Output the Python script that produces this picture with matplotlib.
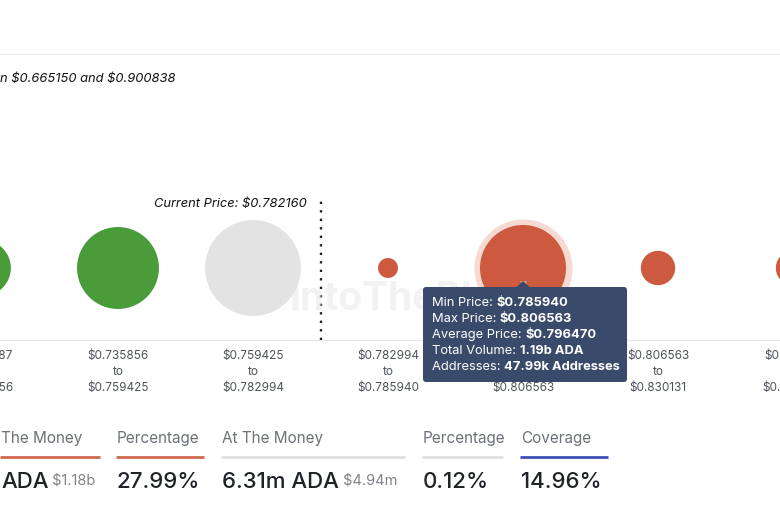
import matplotlib
matplotlib.use("Agg")
import matplotlib.pyplot as plt
from matplotlib.patches import FancyBboxPatch, Polygon

plt.rcParams['font.family'] = ['Inter', 'DejaVu Sans']
plt.rcParams['text.parse_math'] = False

# price buckets (only the visible part of the chart)
lows = [0.712287, 0.735856, 0.759425, 0.782994, 0.785940, 0.806563, 0.830131]
highs = [0.735856, 0.759425, 0.782994, 0.785940, 0.806563, 0.830131, 0.853700]
volumes_b = [0.50, 1.08, 1.48, 0.064, 1.19, 0.19, 0.19]  # billions ADA
status = ['in', 'in', 'at', 'out', 'out', 'out', 'out']
current_price = 0.782160
range_text = "n $0.665150 and $0.900838"

hovered = 4
tip_labels = ['Min Price: ', 'Max Price: ', 'Average Price: ', 'Total Volume: ', 'Addresses: ']
tip_values = ['$0.785940', '$0.806563', '$0.796470', '1.19b ADA', '47.99k Addresses']

stat_heads = ['The Money', 'Percentage', 'At The Money', 'Percentage', 'Coverage']
stat_values = ['ADA', '27.99%', '6.31m ADA', '0.12%', '14.96%']
stat_usd = ['$1.18b', '', '$4.94m', '', '']
stat_x = [1, 117, 222, 423, 521]
stat_w = [100, 88, 184, 81, 88]
stat_line = ['#d0694f', '#d0694f', '#e0e0e0', '#e0e0e0', '#3c50b4']

colors = {'in': '#4a9c3a', 'at': '#e3e3e3', 'out': '#cd5a3e'}

W, H = 780, 507
fig = plt.figure(figsize=(W / 100, H / 100), dpi=100)

# overlay axes in pixel coordinates for text / decorations
ov = fig.add_axes([0, 0, 1, 1])
ov.set_xlim(0, W)
ov.set_ylim(H, 0)
ov.axis('off')
ov.set_zorder(3)
ov.patch.set_alpha(0)

# bubble chart axes (wider than the figure so the edge columns are cut like the screenshot)
top, base = 54, 340
ext = 100
ax = fig.add_axes([-ext / W, (H - base) / H, (W + 2 * ext) / W, (base - top) / H])
first_c, step = 118, 135
yb = (base - 268) / (base - top)

xs = list(range(len(lows)))
r_ref = 43
px2pt = 72 / 100
sizes = [(2 * r_ref * (v / volumes_b[hovered]) ** 0.5 * px2pt) ** 2 for v in volumes_b]
ax.scatter(xs, [yb] * len(xs), s=sizes, c=[colors[s] for s in status],
           linewidths=0, zorder=3)
halo = (2 * (r_ref + 6) * px2pt) ** 2
ax.scatter([hovered], [yb], s=halo, c='#f6d9d1', linewidths=0, zorder=2)

labels = [f"${lo:.6f}\nto\n${hi:.6f}" for lo, hi in zip(lows, highs)]
ax.set_xticks(xs)
ax.set_xticklabels(labels, fontsize=8.5, color='#4f545a', linespacing=1.42)
ax.tick_params(axis='x', length=0, pad=7.5)
ax.set_yticks([])
ax.set_xlim((-ext - first_c) / step + 1, (W + ext - first_c) / step + 1)
ax.set_ylim(0, 1)
for sp in ['left', 'right']:
    ax.spines[sp].set_visible(False)
ax.spines['bottom'].set_color('#e2e5e9')
ax.spines['top'].set_color('#ececec')

# current price marker sits between the at-the-money and next bucket
cur_idx = next(i for i in xs if lows[i] <= current_price <= highs[i]) + 0.5
dline_top = (base - 198) / (base - top)
ax.plot([cur_idx, cur_idx], [0, dline_top], color='#222222', lw=1.7,
        linestyle=(0, (1, 2.6)), dash_capstyle='butt', zorder=4)
ax.annotate(f"Current Price: ${current_price:.6f}", xy=(cur_idx, dline_top),
            xytext=(-10, -4), textcoords='offset points', ha='right', va='center',
            fontsize=9.3, style='italic', color='#111111')

# watermark
ax.text(1.0 + (290 - first_c) / step, (base - 300) / (base - top), "IntoTheBlock",
        fontsize=28, fontweight='bold', color='#e6e6e6', alpha=0.5,
        va='center', ha='left', zorder=4)

ov.text(0, 79, range_text, fontsize=9.3, style='italic', color='#111111', va='center')

# tooltip
fig.canvas.draw()
bx, by = ax.transData.transform((hovered, yb))
by = H - by
tw, th = 204, 95
tx0, ty0 = bx + 2 - tw / 2, by + 19
box = FancyBboxPatch((tx0, ty0), tw, th, boxstyle='round,pad=0,rounding_size=3',
                     fc='#3a4a6a', ec='none', zorder=5)
ov.add_patch(box)
ov.add_patch(Polygon([[bx - 7, ty0 + 0.5], [bx + 7, ty0 + 0.5], [bx, ty0 - 6]],
                     closed=True, fc='#3a4a6a', ec='none', zorder=5))
for k, (lab, val) in enumerate(zip(tip_labels, tip_values)):
    t = ov.text(tx0 + 9, ty0 + 16 + 16 * k, lab, fontsize=9.3, color='white',
                va='center', zorder=6)
    ov.annotate(val, xy=(1, 0.5), xycoords=t, va='center', ha='left',
                fontsize=9.3, fontweight='bold', color='white', zorder=6)

# stats row
for head, val, usd, x, w, lc in zip(stat_heads, stat_values, stat_usd, stat_x, stat_w, stat_line):
    ov.text(x, 439, head, fontsize=11, color='#6d7178', va='center')
    ov.plot([x - 1, x - 1 + w], [457, 457], color=lc, lw=2, solid_capstyle='butt')
    t = ov.text(x, 482, val, fontsize=16, color='#1f2328', va='center', fontweight='medium')
    if usd:
        ov.annotate(' ' + usd, xy=(1, 0.2), xycoords=t, va='bottom', ha='left',
                    fontsize=10.5, color='#80848a')

fig.savefig('out.png', dpi=100)
